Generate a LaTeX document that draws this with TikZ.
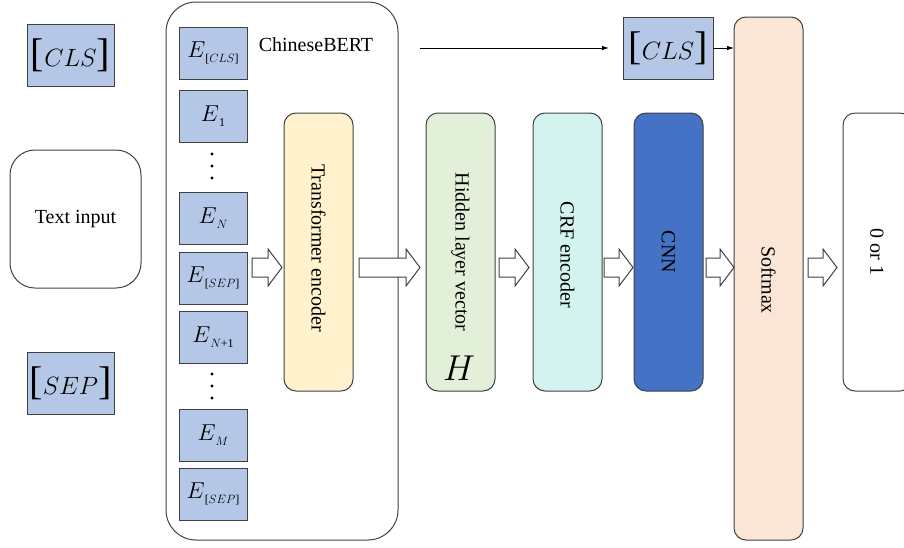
\RequirePackage{fix-cm}
\documentclass[tikz,border=0pt]{standalone}
\usepackage{fontspec}
\setmainfont{Liberation Serif}
\usetikzlibrary{arrows.meta,calc}
\definecolor{lblue}{HTML}{B4C7E7}
\definecolor{lyellow}{HTML}{FFF2CC}
\definecolor{lgreen}{HTML}{E2F0D9}
\definecolor{lcyan}{HTML}{D3F3EF}
\definecolor{dblue}{HTML}{4472C4}
\definecolor{lpeach}{HTML}{FBE5D6}
\definecolor{edge}{HTML}{404040}
\newcommand{\bigbr}[1]{{\fontsize{40}{40}\selectfont[}{\fontsize{25}{25}\selectfont$#1$}{\fontsize{40}{40}\selectfont]}}
\newcommand{\Esub}[1]{{\fontsize{23}{23}\selectfont$E$}\raisebox{-5pt}{\fontsize{12}{12}\selectfont #1}}
\newcommand{\fatarrow}[2]{%
  \draw[fat] (#1,258) -- ({#2-14},258) -- ({#2-14},249) -- (#2,267.5) -- ({#2-14},286) -- ({#2-14},277) -- (#1,277) -- cycle;}
\begin{document}
\begin{tikzpicture}[x=1pt,y=-1pt,
  font=\fontsize{20}{24}\selectfont,
  every node/.style={inner sep=0pt,outer sep=0pt},
  tok/.style={draw=edge,line width=1pt,fill=lblue,anchor=north west},
  ebox/.style={tok,minimum width=68pt,minimum height=52pt},
  tall/.style={draw=edge,line width=1pt,rounded corners=12pt,anchor=north west,minimum width=69pt},
  fat/.style={draw=edge,line width=1pt,fill=white},
  thin/.style={line width=0.8pt,-{Latex[length=7pt,width=4.5pt]}}
]
\useasboundingbox (0,0) rectangle (904,547);
% left column
\node[tok,minimum width=87pt,minimum height=62pt] (clsl) at (27,24) {\bigbr{CLS}};
\node[draw=edge,line width=1pt,rounded corners=25pt,minimum width=131pt,minimum height=138pt,anchor=north west] (txt) at (10,150) {Text input};
\node[tok,minimum width=87pt,minimum height=62pt] (sepl) at (27,352) {\bigbr{SEP}};
% ChineseBERT container
\node[draw=edge,line width=1pt,rounded corners=30pt,minimum width=232pt,minimum height=538pt,anchor=north west] (bert) at (166,2) {};
\node (bertlbl) at (316,45) {ChineseBERT};
\node[ebox] (ecls) at (179,27) {\Esub{[$CLS$]}};
\node[ebox] (e1) at (179,90) {\Esub{1}};
\foreach \y in {154,166,178}{\fill (212,\y) circle (1.6pt);}
\node[ebox] (en) at (179,192) {\Esub{$N$}};
\node[ebox] (esep) at (179,252) {\Esub{[$SEP$]}};
\node[ebox] (en1) at (179,311) {\Esub{$N$+1}};
\foreach \y in {374,386,398}{\fill (212,\y) circle (1.6pt);}
\node[ebox] (em) at (179,409) {\Esub{$M$}};
\node[ebox] (esep2) at (179,468) {\Esub{[$SEP$]}};
% tall blocks
\node[tall,fill=lyellow,minimum height=278pt] (enc) at (284,113) {};
\node[rotate=-90] (enclbl) at (318.5,248) {Transformer encoder};
\node[tall,fill=lgreen,minimum height=278pt] (hid) at (426,113) {};
\node[rotate=-90] (hidlbl) at (460.5,252) {Hidden layer vector};
\node (hidH) at (459,368) {\fontsize{36}{36}\selectfont$H$};
\node[tall,fill=lcyan,minimum height=278pt] (crf) at (533,113) {};
\node[rotate=-90] (crflbl) at (567.5,255) {CRF encoder};
\node[tall,fill=dblue,minimum height=278pt] (cnn) at (634,113) {};
\node[rotate=-90] (cnnlbl) at (668.5,252) {CNN};
\node[tall,fill=lpeach,minimum height=523pt] (soft) at (734,17) {};
\node[rotate=-90] (softlbl) at (768.5,280) {Softmax};
\node[tall,fill=white,minimum height=278pt] (out) at (843,113) {};
\node[rotate=-90] (outlbl) at (877,252) {0 or 1};
% top CLS
\node[tok,minimum width=90pt,minimum height=62pt] (clsr) at (623,17) {\bigbr{CLS}};
\coordinate (topstart) at (420,48);
\draw[thin,shorten >=14pt] (topstart) -- (topstart -| clsr.west);
\draw[thin] (clsr.east |- topstart) -- (soft.west |- topstart);
% block arrows
\fatarrow{252}{282}
\fatarrow{359}{420}
\fatarrow{499}{529}
\fatarrow{604}{633}
\fatarrow{706}{734}
\fatarrow{808}{837}
\end{tikzpicture}
\end{document}
